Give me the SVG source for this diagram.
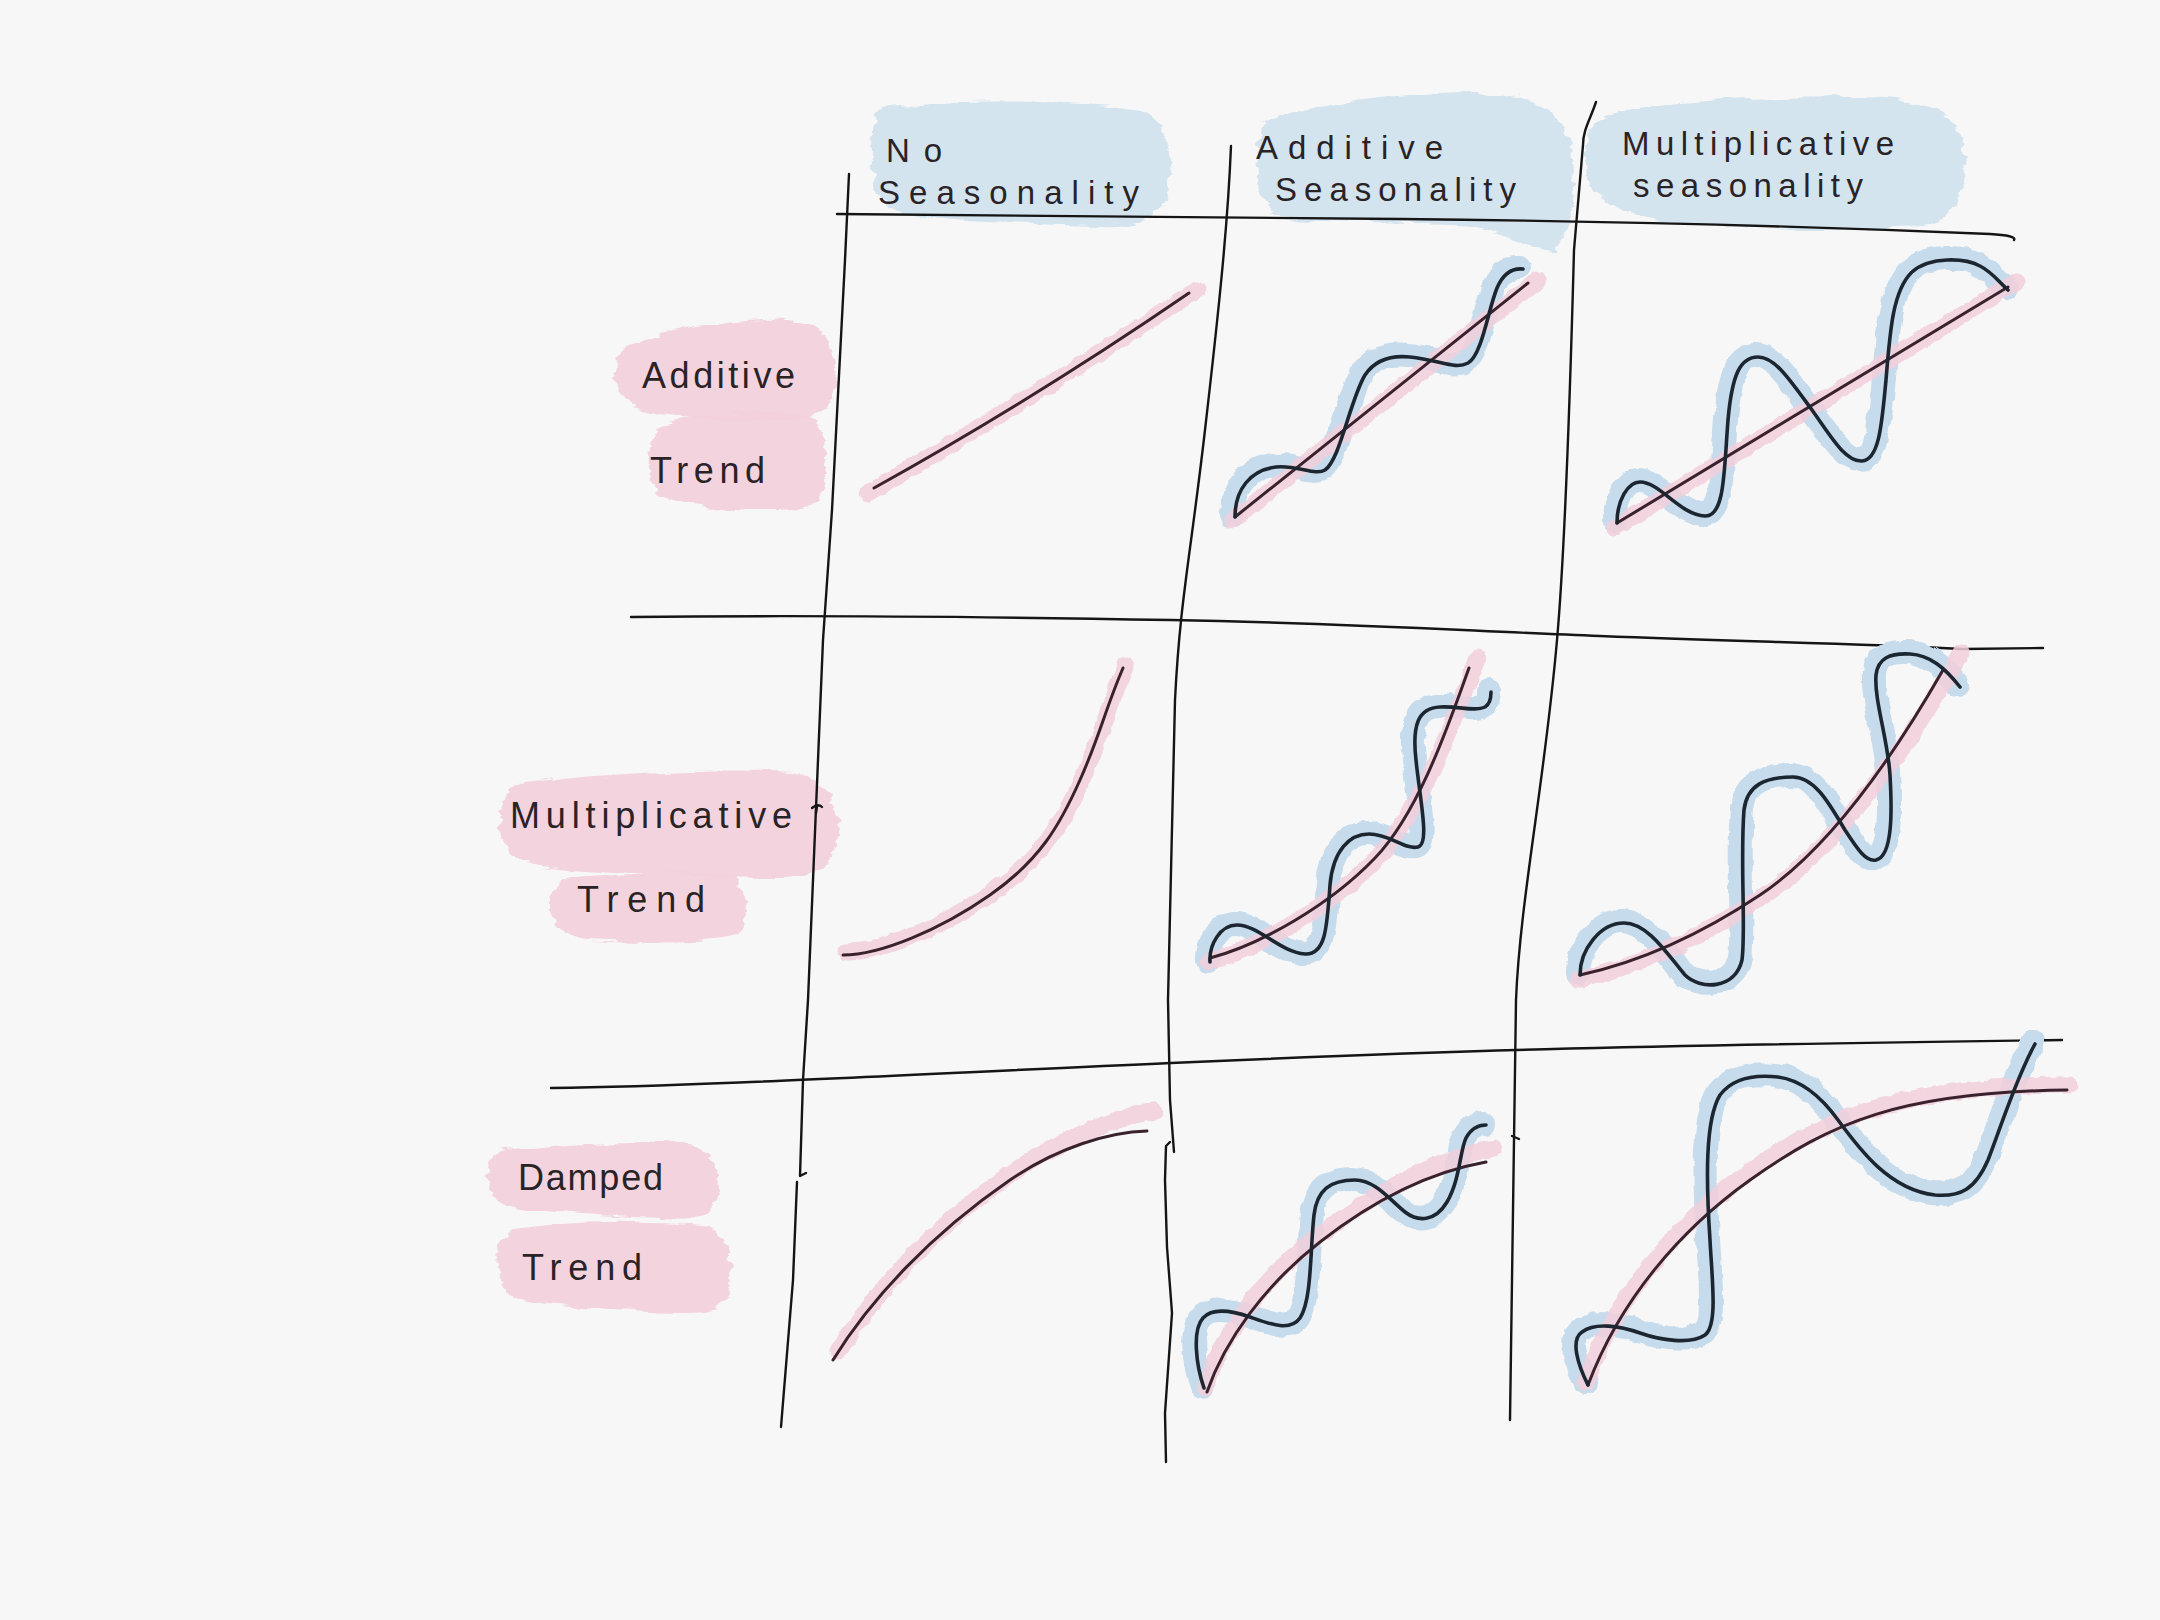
<svg xmlns="http://www.w3.org/2000/svg" width="2160" height="1620" viewBox="0 0 2160 1620">
<defs>
<filter id="rough" x="-10%" y="-20%" width="120%" height="140%">
<feTurbulence type="fractalNoise" baseFrequency="0.02 0.12" numOctaves="3" seed="4"/>
<feDisplacementMap in="SourceGraphic" scale="12" xChannelSelector="R" yChannelSelector="G"/>
</filter>
<filter id="soft" x="-10%" y="-10%" width="120%" height="120%">
<feTurbulence type="fractalNoise" baseFrequency="0.08" numOctaves="2" seed="7"/>
<feDisplacementMap in="SourceGraphic" scale="6" xChannelSelector="R" yChannelSelector="G"/>
</filter>
</defs>
<style>
.bg{fill:#f7f7f7}
.blue{fill:#d3e4ef;filter:url(#rough)}
.pink{fill:#f3d0dc;fill-opacity:0.9;filter:url(#rough)}
.grid{fill:none;stroke:#151515;stroke-width:2.4;stroke-linecap:round;stroke-linejoin:round}
.lbl{font-family:"Liberation Sans","DejaVu Sans",sans-serif;font-size:36px;fill:#2a2326}
.hdr{font-size:33px}
.halo{fill:none;stroke:#c6dced;stroke-width:24;stroke-linecap:round;stroke-linejoin:round;filter:url(#soft)}
.phalo{fill:none;stroke:#f1cfdb;stroke-opacity:0.85;stroke-width:17;stroke-linecap:round;stroke-linejoin:round;filter:url(#soft)}
.wave{fill:none;stroke:#1c2630;stroke-width:3.6;stroke-linecap:round;stroke-linejoin:round}
.trend{fill:none;stroke:#3a222d;stroke-width:3;stroke-linecap:round;stroke-linejoin:round}
</style>
<rect class="bg" x="0" y="0" width="2160" height="1620"/>

<g id="header-no-seasonality">
<path class="blue" d="M885 108 C950 98, 1080 100, 1140 110 C1168 118, 1172 150, 1168 185 C1165 215, 1140 228, 1100 226 C1020 224, 940 222, 900 212 C875 205, 872 180, 873 150 C874 120, 876 110, 885 108 Z"/>
<text class="lbl hdr" x="886" y="162" textLength="56" lengthAdjust="spacing">No</text>
<text class="lbl hdr" x="878" y="204" textLength="261" lengthAdjust="spacing">Seasonality</text>
</g>
<g id="header-additive-seasonality">
<path class="blue" d="M1265 125 C1300 105, 1400 92, 1480 92 C1530 95, 1560 110, 1570 140 C1578 180, 1575 230, 1555 252 C1530 248, 1500 232, 1470 226 C1400 222, 1320 225, 1285 218 C1260 210, 1255 180, 1257 150 C1258 135, 1260 128, 1265 125 Z"/>
<text class="lbl hdr" x="1256" y="159" textLength="187" lengthAdjust="spacing">Additive</text>
<text class="lbl hdr" x="1275" y="201" textLength="241" lengthAdjust="spacing">Seasonality</text>
</g>
<g id="header-multiplicative-seasonality">
<path class="blue" d="M1600 118 C1640 100, 1750 98, 1850 97 C1920 96, 1960 110, 1964 150 C1968 190, 1955 222, 1920 226 C1850 230, 1720 228, 1660 220 C1610 214, 1588 195, 1586 165 C1585 140, 1590 125, 1600 118 Z"/>
<text class="lbl hdr" x="1622" y="155" textLength="272" lengthAdjust="spacing">Multiplicative</text>
<text class="lbl hdr" x="1633" y="197" textLength="230" lengthAdjust="spacing">seasonality</text>
</g>

<g id="row-additive-trend">
<path class="pink" d="M630 345 C660 330, 740 318, 790 320 C825 325, 840 350, 836 385 C832 410, 815 422, 790 422 C740 423, 680 420, 650 413 C625 405, 612 385, 616 365 C618 355, 622 348, 630 345 Z"/>
<path class="pink" d="M660 428 C690 412, 760 410, 800 415 C825 420, 830 450, 826 480 C822 505, 800 513, 770 512 C720 510, 680 505, 660 495 C645 485, 645 440, 660 428 Z"/>
<text class="lbl" x="642" y="388" textLength="153" lengthAdjust="spacing">Additive</text>
<text class="lbl" x="650" y="483" textLength="115" lengthAdjust="spacing">Trend</text>
</g>
<g id="row-multiplicative-trend">
<path class="pink" d="M520 785 C600 772, 720 768, 790 772 C825 778, 842 805, 838 835 C834 865, 815 878, 780 878 C700 878, 600 872, 540 866 C510 862, 498 845, 500 820 C502 800, 508 790, 520 785 Z"/>
<path class="pink" d="M570 880 C620 872, 700 872, 730 876 C748 885, 750 920, 740 935 C725 945, 650 943, 590 940 C560 938, 548 920, 550 900 C552 888, 560 882, 570 880 Z"/>
<text class="lbl" x="510" y="828" textLength="282" lengthAdjust="spacing">Multiplicative</text>
<text class="lbl" x="577" y="912" textLength="128" lengthAdjust="spacing">Trend</text>
</g>
<g id="row-damped-trend">
<path class="pink" d="M505 1150 C560 1142, 650 1140, 690 1145 C715 1150, 722 1180, 718 1200 C712 1218, 690 1220, 660 1218 C600 1216, 540 1212, 505 1205 C488 1200, 485 1170, 490 1160 C493 1154, 498 1151, 505 1150 Z"/>
<path class="pink" d="M520 1228 C580 1220, 670 1220, 710 1226 C732 1235, 735 1280, 728 1300 C718 1313, 690 1313, 650 1311 C590 1308, 540 1305, 515 1298 C498 1290, 494 1255, 500 1240 C505 1232, 512 1229, 520 1228 Z"/>
<text class="lbl" x="518" y="1190" textLength="145" lengthAdjust="spacing">Damped</text>
<text class="lbl" x="522" y="1280" textLength="120" lengthAdjust="spacing">Trend</text>
</g>

<g id="grid">
<path class="grid" d="M837 214 C1000 216, 1200 217, 1400 219 S 1800 226, 1990 234 C2008 235, 2016 237, 2014 240"/>
<path class="grid" d="M631 617 C800 615, 1000 617, 1171 620 S 1450 630, 1600 636 S 1850 643, 1963 649 L2043 648"/>
<path class="grid" d="M551 1088 C700 1086, 900 1075, 1171 1063 S 1600 1046, 2062 1040"/>
<path class="grid" d="M849 174 L845 260 L832 510 L823 640 L808 1000 L803 1080 L800 1176 L806 1173"/>
<path class="grid" d="M797 1182 L793 1280 L781 1427"/>
<path class="grid" d="M1231 146 C1228 220, 1220 300, 1205 430 S 1180 600, 1175 700 L1168 1000 L1170 1100 L1174 1152"/>
<path class="grid" d="M1170 1142 L1166 1146 L1165 1180 L1167 1247 L1172 1313 L1165 1413 L1166 1462"/>
<path class="grid" d="M1596 102 C1590 120, 1583 130, 1583 145 L1574 250 C1570 400, 1565 550, 1557 640 C1545 780, 1520 900, 1516 1000 L1510 1420"/>
<path class="grid" d="M1512 1136 L1519 1139"/>
<path class="grid" d="M812 808 Q818 803 822 807 M817 806 L816 813"/>
</g>

<g id="cell-additive-none">
<path class="phalo" d="M868 493 Q1036 396 1198 289"/>
<path class="trend" d="M874 488 Q1036 398 1189 293"/>
</g>
<g id="cell-additive-additive">
<path class="halo" d="M1235 517 C1235 490, 1250 470, 1276 467 C1298 465, 1315 476, 1325 470 C1340 460, 1350 400, 1365 375 C1375 360, 1390 355, 1410 357 C1440 360, 1455 370, 1468 363 C1482 355, 1488 310, 1497 288 C1503 274, 1512 268, 1523 269" transform="translate(-3,-2)"/>
<path class="phalo" d="M1233 520 L1538 280"/>
<path class="trend" d="M1235 517 L1528 283"/>
<path class="wave" d="M1235 517 C1235 490, 1250 470, 1276 467 C1298 465, 1315 476, 1325 470 C1340 460, 1350 400, 1365 375 C1375 360, 1390 355, 1410 357 C1440 360, 1455 370, 1468 363 C1482 355, 1488 310, 1497 288 C1503 274, 1512 268, 1523 269"/>
</g>
<g id="cell-additive-multiplicative">
<path class="halo" d="M1617 523 C1617 500, 1628 482, 1640 482 C1660 482, 1680 515, 1705 516 C1725 517, 1724 470, 1728 420 C1732 375, 1740 357, 1758 357 C1775 357, 1790 380, 1812 410 C1830 435, 1845 462, 1862 461 C1880 460, 1882 420, 1886 380 C1890 330, 1893 290, 1912 272 C1930 256, 1965 258, 1980 266 C1992 272, 2000 283, 2008 290" transform="translate(-2,-2)"/>
<path class="phalo" d="M1614 528 L2016 282"/>
<path class="trend" d="M1617 523 L2008 287"/>
<path class="wave" d="M1617 523 C1617 500, 1628 482, 1640 482 C1660 482, 1680 515, 1705 516 C1725 517, 1724 470, 1728 420 C1732 375, 1740 357, 1758 357 C1775 357, 1790 380, 1812 410 C1830 435, 1845 462, 1862 461 C1880 460, 1882 420, 1886 380 C1890 330, 1893 290, 1912 272 C1930 256, 1965 258, 1980 266 C1992 272, 2000 283, 2008 290"/>
</g>

<g id="cell-multiplicative-none">
<path class="phalo" d="M846 952 C883 952, 943 927, 993 892 S 1063 822, 1083 777 S 1108 707, 1126 665"/>
<path class="trend" d="M843 955 C880 955, 940 930, 990 895 S 1060 825, 1080 780 S 1105 710, 1123 668"/>
</g>
<g id="cell-multiplicative-additive">
<path class="halo" d="M1210 962 C1209 945, 1220 925, 1237 925 C1258 925, 1280 952, 1305 954 C1325 955, 1327 930, 1330 885 C1333 850, 1350 834, 1369 834 C1390 834, 1405 850, 1418 847 C1430 844, 1420 800, 1416 760 C1412 725, 1418 708, 1440 707 C1460 706, 1475 712, 1485 707 C1490 704, 1491 698, 1491 692" transform="translate(-2,-1)"/>
<path class="phalo" d="M1208 962 C1260 948, 1332 905, 1377 858 S 1455 715, 1478 658"/>
<path class="trend" d="M1210 958 C1260 945, 1330 905, 1375 858 S 1450 720, 1469 668"/>
<path class="wave" d="M1210 962 C1209 945, 1220 925, 1237 925 C1258 925, 1280 952, 1305 954 C1325 955, 1327 930, 1330 885 C1333 850, 1350 834, 1369 834 C1390 834, 1405 850, 1418 847 C1430 844, 1420 800, 1416 760 C1412 725, 1418 708, 1440 707 C1460 706, 1475 712, 1485 707 C1490 704, 1491 698, 1491 692"/>
</g>
<g id="cell-multiplicative-multiplicative">
<path class="halo" d="M1580 975 C1580 950, 1600 923, 1624 923 C1648 923, 1668 955, 1685 975 C1700 990, 1735 990, 1742 960 C1746 930, 1740 860, 1744 810 C1747 785, 1765 777, 1793 777 C1815 777, 1830 805, 1845 830 C1858 850, 1866 862, 1876 860 C1893 856, 1892 810, 1890 775 C1888 740, 1874 700, 1876 675 C1878 658, 1890 653, 1910 654 C1930 655, 1945 668, 1960 687" transform="translate(-2,-2)"/>
<path class="phalo" d="M1578 980 C1640 966, 1700 938, 1762 897 S 1895 770, 1962 652"/>
<path class="trend" d="M1580 975 C1640 962, 1700 935, 1760 895 S 1880 780, 1943 670"/>
<path class="wave" d="M1580 975 C1580 950, 1600 923, 1624 923 C1648 923, 1668 955, 1685 975 C1700 990, 1735 990, 1742 960 C1746 930, 1740 860, 1744 810 C1747 785, 1765 777, 1793 777 C1815 777, 1830 805, 1845 830 C1858 850, 1866 862, 1876 860 C1893 856, 1892 810, 1890 775 C1888 740, 1874 700, 1876 675 C1878 658, 1890 653, 1910 654 C1930 655, 1945 668, 1960 687"/>
</g>

<g id="cell-damped-none">
<path class="phalo" d="M838 1352 C875 1292, 935 1225, 1013 1172 C1062 1140, 1110 1118, 1155 1111"/>
<path class="trend" d="M833 1360 C870 1300, 930 1235, 1010 1180 C1058 1147, 1110 1132, 1147 1131"/>
</g>
<g id="cell-damped-additive">
<path class="halo" d="M1204 1388 C1196 1365, 1192 1330, 1203 1318 C1212 1308, 1230 1310, 1250 1317 C1270 1324, 1290 1332, 1300 1318 C1312 1300, 1310 1250, 1314 1215 C1317 1190, 1330 1180, 1355 1180 C1375 1180, 1390 1200, 1405 1212 C1418 1222, 1435 1222, 1447 1202 C1460 1180, 1460 1150, 1466 1138 C1472 1127, 1480 1125, 1486 1125" transform="translate(-2,-1)"/>
<path class="phalo" d="M1205 1388 C1222 1335, 1262 1278, 1318 1236 S 1432 1160, 1494 1148"/>
<path class="trend" d="M1207 1392 C1225 1340, 1265 1285, 1320 1242 S 1430 1172, 1486 1162"/>
<path class="wave" d="M1204 1388 C1196 1365, 1192 1330, 1203 1318 C1212 1308, 1230 1310, 1250 1317 C1270 1324, 1290 1332, 1300 1318 C1312 1300, 1310 1250, 1314 1215 C1317 1190, 1330 1180, 1355 1180 C1375 1180, 1390 1200, 1405 1212 C1418 1222, 1435 1222, 1447 1202 C1460 1180, 1460 1150, 1466 1138 C1472 1127, 1480 1125, 1486 1125"/>
</g>
<g id="cell-damped-multiplicative">
<path class="halo" d="M1588 1385 C1578 1365, 1570 1340, 1582 1332 C1595 1322, 1620 1326, 1640 1333 C1660 1340, 1690 1345, 1705 1335 C1718 1325, 1712 1280, 1710 1240 C1706 1180, 1705 1120, 1720 1095 C1735 1075, 1760 1075, 1778 1077 C1800 1080, 1820 1095, 1838 1120 C1860 1150, 1890 1190, 1935 1195 C1960 1197, 1975 1190, 1988 1160 C2000 1130, 2015 1080, 2035 1044" transform="translate(-2,-2)"/>
<path class="phalo" d="M1586 1382 C1618 1292, 1680 1220, 1752 1170 C1825 1118, 1905 1085, 2070 1085"/>
<path class="trend" d="M1588 1385 C1620 1300, 1680 1230, 1750 1180 C1830 1123, 1900 1092, 2067 1090"/>
<path class="wave" d="M1588 1385 C1578 1365, 1570 1340, 1582 1332 C1595 1322, 1620 1326, 1640 1333 C1660 1340, 1690 1345, 1705 1335 C1718 1325, 1712 1280, 1710 1240 C1706 1180, 1705 1120, 1720 1095 C1735 1075, 1760 1075, 1778 1077 C1800 1080, 1820 1095, 1838 1120 C1860 1150, 1890 1190, 1935 1195 C1960 1197, 1975 1190, 1988 1160 C2000 1130, 2015 1080, 2035 1044"/>
</g>
</svg>
